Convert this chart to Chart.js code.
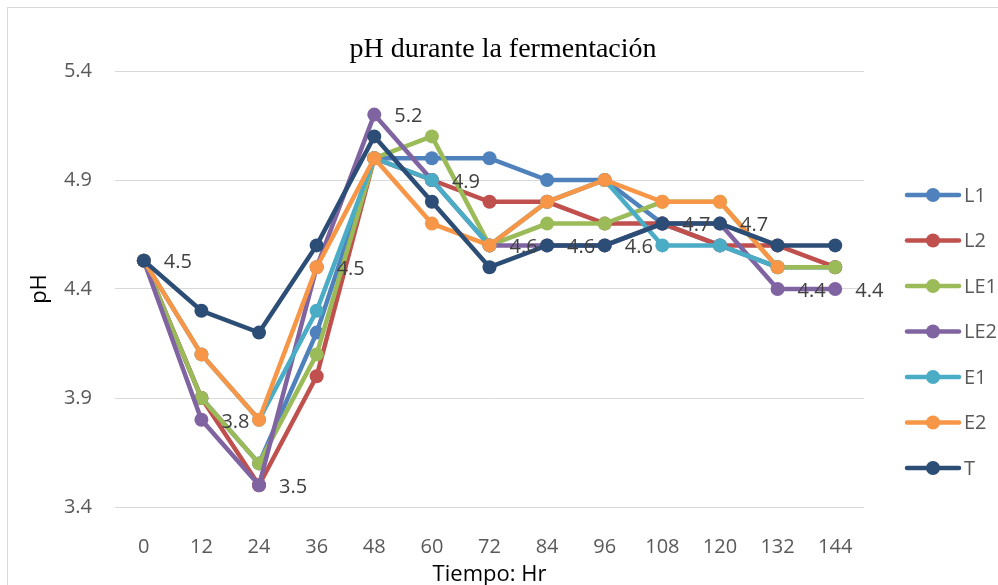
<!DOCTYPE html>
<html>
<head>
<meta charset="utf-8">
<script src="https://cdn.jsdelivr.net/npm/chart.js@4.4.1/dist/chart.umd.min.js"></script>
<style>
  html, body { margin: 0; padding: 0; background: #fff; }
  #wrap { width: 998px; height: 585px; }
</style>
</head>
<body>
<div id="wrap"><canvas id="phChart"></canvas></div>
<script>
const hours = ["0", "12", "24", "36", "48", "60", "72", "84", "96", "108", "120", "132", "144"];
const seriesNames = ["L1", "L2", "LE1", "LE2", "E1", "E2", "T"];
const seriesColors = ["#4F81BD", "#C0504D", "#9BBB59", "#8064A2", "#4BACC6", "#F79646", "#2C4D75"];

const L1  = [4.53, 3.9, 3.6, 4.2, 5.0, 5.0, 5.0, 4.9, 4.9, 4.7, 4.6, 4.5, 4.5];
const L2  = [4.53, 3.9, 3.5, 4.0, 5.0, 4.9, 4.8, 4.8, 4.7, 4.7, 4.6, 4.6, 4.5];
const LE1 = [4.53, 3.9, 3.6, 4.1, 5.0, 5.1, 4.6, 4.7, 4.7, 4.8, 4.8, 4.5, 4.5];
const LE2 = [4.53, 3.8, 3.5, 4.5, 5.2, 4.9, 4.6, 4.6, 4.6, 4.7, 4.7, 4.4, 4.4];
const E1  = [4.53, 4.1, 3.8, 4.3, 5.0, 4.9, 4.6, 4.8, 4.9, 4.6, 4.6, 4.5, null];
const E2  = [4.53, 4.1, 3.8, 4.5, 5.0, 4.7, 4.6, 4.8, 4.9, 4.8, 4.8, 4.5, null];
const T   = [4.53, 4.3, 4.2, 4.6, 5.1, 4.8, 4.5, 4.6, 4.6, 4.7, 4.7, 4.6, 4.6];

const yTicks = [3.4, 3.9, 4.4, 4.9, 5.4];
const labelledSeries = "LE2";
const chartTitle = "pH durante la fermentación";

const allSeries = [L1, L2, LE1, LE2, E1, E2, T];
const sans = "'Open Sans', 'Liberation Sans', sans-serif";

// white background, thin frame and the title centred on the whole canvas
const frame = {
    id: "frame",
    beforeDraw(chart) {
        const ctx = chart.ctx;
        ctx.save();
        ctx.fillStyle = "#fff";
        ctx.fillRect(0, 0, chart.width, chart.height);
        ctx.strokeStyle = "#d9d9d9";
        ctx.lineWidth = 1;
        ctx.strokeRect(7.5, 7.5, chart.width + 10, chart.height + 10);
        ctx.fillStyle = "#000";
        ctx.font = "28px 'Liberation Serif', 'Times New Roman', serif";
        ctx.textAlign = "center";
        ctx.textBaseline = "alphabetic";
        ctx.fillText(chartTitle, 503, 57);
        ctx.restore();
    }
};

// value labels to the right of the points of one series
const pointLabels = {
    id: "pointLabels",
    afterDatasetsDraw(chart) {
        const ctx = chart.ctx;
        chart.data.datasets.forEach((ds, i) => {
            if (ds.label !== labelledSeries) return;
            const meta = chart.getDatasetMeta(i);
            ctx.save();
            ctx.font = "20px " + sans;
            ctx.fillStyle = "#404040";
            ctx.textAlign = "left";
            ctx.textBaseline = "middle";
            meta.data.forEach((pt, j) => {
                if (ds.data[j] == null) return;
                ctx.fillText(ds.data[j].toFixed(1), pt.x + 20, pt.y + 2);
            });
            ctx.restore();
        });
    }
};

// legend with line + marker
const lineLegend = {
    id: "lineLegend",
    afterDraw(chart) {
        const ctx = chart.ctx;
        ctx.save();
        chart.data.datasets.forEach((ds, i) => {
            const y = 195 + i * 45.5;
            ctx.strokeStyle = ds.borderColor;
            ctx.lineWidth = 4.5;
            ctx.lineCap = "round";
            ctx.beginPath();
            ctx.moveTo(907, y);
            ctx.lineTo(959, y);
            ctx.stroke();
            ctx.fillStyle = ds.borderColor;
            ctx.beginPath();
            ctx.arc(933, y, 7, 0, Math.PI * 2);
            ctx.fill();
            ctx.fillStyle = "#595959";
            ctx.font = "20px " + sans;
            ctx.textAlign = "left";
            ctx.textBaseline = "middle";
            ctx.fillText(ds.label, 964, y + 1);
        });
        ctx.restore();
    }
};

new Chart(document.getElementById("phChart"), {
    type: "line",
    data: {
        labels: hours,
        datasets: seriesNames.map((name, i) => ({
            label: name,
            data: allSeries[i],
            borderColor: seriesColors[i],
            backgroundColor: seriesColors[i],
            pointBackgroundColor: seriesColors[i],
            pointBorderWidth: 0,
            pointRadius: 7,
            borderWidth: 4.5,
            tension: 0,
            spanGaps: false,
            order: seriesNames.length - i
        }))
    },
    options: {
        responsive: true,
        maintainAspectRatio: false,
        animation: false,
        layout: { padding: { left: 0, right: 134, top: 71, bottom: 0 } },
        plugins: {
            legend: { display: false },
            tooltip: { enabled: false },
            title: { display: false }
        },
        scales: {
            x: {
                offset: true,
                grid: { display: false },
                border: { display: false },
                ticks: { color: "#595959", font: { family: sans, size: 20 }, padding: 20, maxRotation: 0 },
                title: {
                    display: true,
                    text: "Tiempo: Hr",
                    color: "#000",
                    font: { family: sans, size: 22, lineHeight: 1 },
                    padding: { top: 0, bottom: -1 }
                },
                afterFit(scale) { scale.height = 78; }
            },
            y: {
                min: yTicks[0],
                max: yTicks[yTicks.length - 1],
                afterBuildTicks(scale) { scale.ticks = yTicks.map(v => ({ value: v })); },
                grid: { color: "#d9d9d9", lineWidth: 1, drawTicks: false },
                border: { display: false },
                ticks: {
                    color: "#595959",
                    font: { family: sans, size: 20 },
                    padding: 23,
                    callback: v => Number(v).toFixed(1)
                },
                title: {
                    display: true,
                    text: "pH",
                    color: "#000",
                    font: { family: sans, size: 22, lineHeight: 1.2 },
                    padding: { top: 27, bottom: 0 }
                },
                afterFit(scale) { scale.width = 115; }
            }
        }
    },
    plugins: [frame, pointLabels, lineLegend]
});
</script>
</body>
</html>
